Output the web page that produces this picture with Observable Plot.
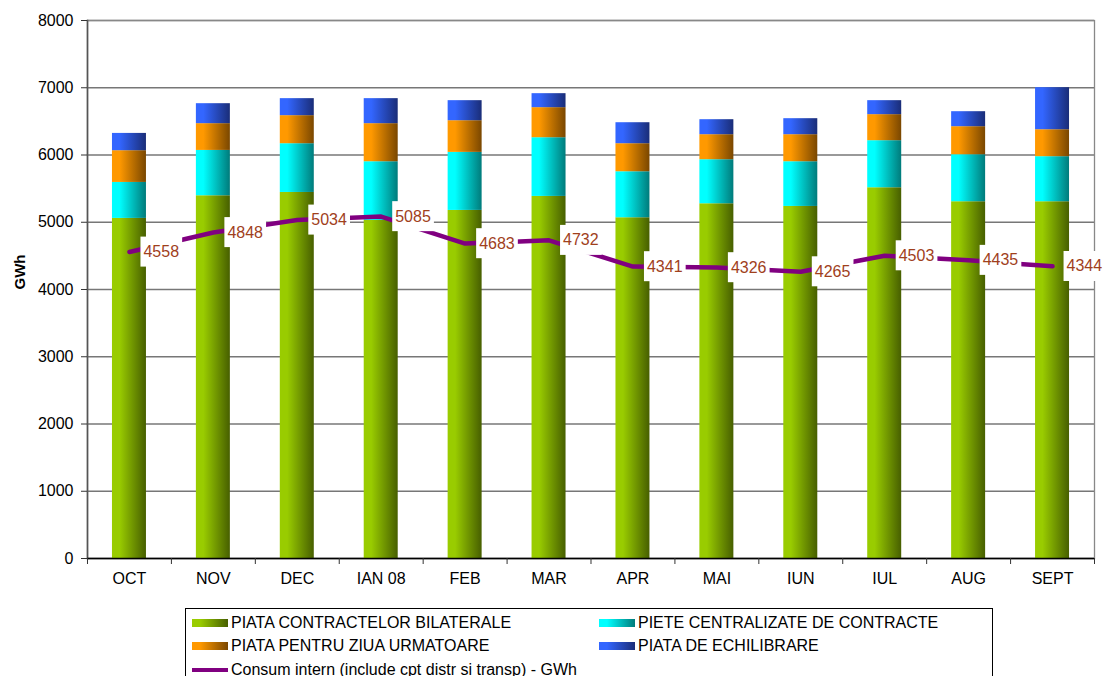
<!DOCTYPE html>
<html><head><meta charset="utf-8">
<script src="https://cdn.jsdelivr.net/npm/d3@7"></script>
<script src="https://cdn.jsdelivr.net/npm/@observablehq/plot@0.6"></script>
<style>
html,body{margin:0;padding:0;background:#fff;overflow:hidden;font-family:Arial,"Liberation Sans",sans-serif;}
#chart svg{display:block;}
#legend{margin-left:185px;margin-top:8px;width:808px;border:1px solid #000;box-sizing:border-box;padding:2px 0 0 6px;
  display:grid;grid-template-columns:407px auto;font-size:16px;color:#000;}
.item{display:flex;align-items:center;height:23.5px;white-space:nowrap;}
.sw{width:36px;height:8px;margin-right:3px;flex:none;}
.ln{width:36px;height:4px;margin-right:3px;flex:none;}
</style></head><body>
<div id="chart"></div>
<div id="legend"></div>
<script>
const months = ["OCT","NOV","DEC","IAN 08","FEB","MAR","APR","MAI","IUN","IUL","AUG","SEPT"];
const seriesNames = ["PIATA CONTRACTELOR BILATERALE","PIETE CENTRALIZATE DE CONTRACTE","PIATA PENTRU ZIUA URMATOARE","PIATA DE ECHILIBRARE"];
const bilaterale = [5057,5394,5443,5027,5176,5384,5067,5275,5235,5513,5305,5305];
const centralizate = [535,674,725,873,863,873,684,655,665,700,699,670];
const ziuaUrmatoare = [472,398,417,566,471,447,417,372,402,387,417,401];
const echilibrare = [257,297,253,372,298,208,312,223,238,208,223,625];
const consum = [4558,4848,5034,5085,4683,4732,4341,4326,4265,4503,4435,4344];
const consumName = "Consum intern (include cpt distr si transp) - GWh";
const yTicks = [0,1000,2000,3000,4000,5000,6000,7000,8000];

const grads = [
  {id:"gGreen", c0:"#99cc00", c1:"#475f00"},
  {id:"gCyan", c0:"#00ffff", c1:"#007b7b"},
  {id:"gOrange", c0:"#ff9900", c1:"#7a4700"},
  {id:"gBlue", c0:"#3366ff", c1:"#1a2d78"}
];

const seriesValues = [bilaterale, centralizate, ziuaUrmatoare, echilibrare];
const stackData = [];
months.forEach((m, i) => seriesNames.forEach((s, j) => stackData.push({month: m, series: s, value: seriesValues[j][i]})));
const lineData = months.map((m, i) => ({month: m, v: consum[i]}));

const labelColor = "#a0401c";
const svg = Plot.plot({
  width: 1105, height: 600,
  marginLeft: 87, marginRight: 11, marginTop: 20, marginBottom: 42,
  style: {fontFamily: "Arial, 'Liberation Sans', sans-serif", fontSize: "16px", color: "#000", background: "#fff"},
  x: {domain: months, paddingInner: 0.595, paddingOuter: 0.2975, round: false, label: null, axis: null},
  y: {domain: [0, 8000], label: null, axis: null},
  color: {type: "ordinal", domain: seriesNames, range: grads.map(g => `url(#${g.id})`)},
  marks: [
    Plot.gridY(yTicks, {stroke: "#777", strokeOpacity: 1, strokeWidth: 1.3}),
    Plot.frame({stroke: "#888", strokeWidth: 1.3}),
    Plot.frame({anchor: "left", stroke: "#555", strokeWidth: 1.6}),
    Plot.barY(stackData, {x: "month", y: "value", fill: "series"}),
    Plot.ruleY([0], {stroke: "#000", strokeWidth: 1.3}),
    Plot.axisY({ticks: yTicks, tickFormat: d => String(d), tickSize: 6, tickPadding: 8, fontSize: 16, stroke: "#333", label: null}),
    Plot.axisX({tickSize: 0, tickPadding: 14, fontSize: 16, label: null}),
    Plot.axisX({ticks: months, tickSize: 6, text: null, dx: -41.96, stroke: "#333", label: null}),
    Plot.axisX({ticks: [months[months.length - 1]], tickSize: 6, text: null, dx: 41.96, stroke: "#333", label: null}),
    Plot.lineY(lineData, {x: "month", y: "v", stroke: "#800080", strokeWidth: 4.5, strokeLinejoin: "miter"}),
    Plot.text(lineData, {x: "month", y: "v", text: d => String(d.v), dx: 14, textAnchor: "start", fill: labelColor, fontSize: 16, className: "vlbl"}),
    Plot.text(["GWh"], {frameAnchor: "left", rotate: -90, dx: -67, fontWeight: "bold", fontSize: 15, fill: "#000"})
  ]
});

const defs = d3.select(svg).insert("defs", ":first-child");
for (const g of grads) {
  const lg = defs.append("linearGradient").attr("id", g.id).attr("x1", "0").attr("x2", "1").attr("y1", "0").attr("y2", "0");
  lg.append("stop").attr("offset", "0").attr("stop-color", g.c0);
  lg.append("stop").attr("offset", "0.22").attr("stop-color", g.c0);
  lg.append("stop").attr("offset", "1").attr("stop-color", g.c1);
}
document.getElementById("chart").appendChild(svg);

d3.select(svg).selectAll("g.vlbl text").each(function() {
  const b = this.getBBox();
  const cy = b.y + b.height / 2;
  const r = d3.select(this.parentNode).insert("rect", () => this)
    .attr("x", b.x - 3).attr("width", b.width + 6)
    .attr("y", cy - 15).attr("height", 30)
    .attr("fill", "#fff");
  const t = this.getAttribute("transform");
  if (t) r.attr("transform", t);
});

const legend = document.getElementById("legend");
const css = g => `linear-gradient(to right, ${g.c0} 0%, ${g.c0} 22%, ${g.c1} 100%)`;
seriesNames.forEach((s, j) => {
  const it = document.createElement("div");
  it.className = "item";
  it.innerHTML = `<span class="sw" style="background:${css(grads[j])}"></span><span></span>`;
  it.lastChild.textContent = s;
  legend.appendChild(it);
});
const li = document.createElement("div");
li.className = "item";
li.innerHTML = `<span class="ln" style="background:#800080"></span><span></span>`;
li.lastChild.textContent = consumName;
legend.appendChild(li);
</script>
</body></html>
